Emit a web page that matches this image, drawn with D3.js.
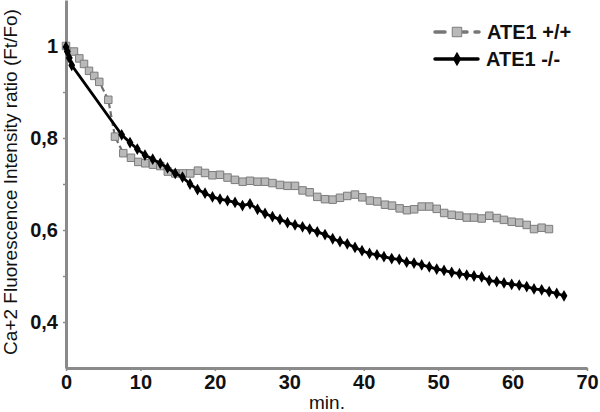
<!DOCTYPE html>
<html>
<head>
<meta charset="utf-8">
<script src="https://cdn.jsdelivr.net/npm/d3@7"></script>
<style>
  html, body { margin: 0; padding: 0; background: #fff; }
  svg { display: block; font-family: "Liberation Sans", Arial, sans-serif; }
</style>
</head>
<body>
<svg id="chart" width="600" height="412"></svg>
<script>
// ---- data ----
const seriesNames = ["ATE1 +/+", "ATE1 -/-"];

const wtTime = [0, 1.07, 1.79, 2.42, 3.09, 3.8, 4.47, 5.68, 6.58, 7.7, 8.73, 9.71, 10.65, 11.69, 12.67, 13.68, 14.68, 15.72, 16.7, 17.73, 18.68, 19.68, 20.69, 21.7, 22.7, 23.74, 24.72, 25.73, 26.74, 27.74, 28.75, 29.76, 30.77, 31.78, 32.74, 33.76, 34.8, 35.83, 36.81, 37.79, 38.83, 39.81, 40.84, 41.82, 42.86, 43.8, 44.83, 45.81, 46.78, 47.79, 48.81, 49.81, 50.81, 51.82, 52.84, 53.84, 54.82, 55.85, 56.87, 57.9, 58.84, 59.88, 60.9, 61.9, 62.88, 63.91, 64.89];
const wtValue = [1.000, 0.988, 0.973, 0.961, 0.946, 0.935, 0.922, 0.883, 0.803, 0.767, 0.757, 0.748, 0.745, 0.742, 0.739, 0.727, 0.723, 0.723, 0.723, 0.729, 0.724, 0.719, 0.720, 0.714, 0.709, 0.705, 0.707, 0.705, 0.705, 0.702, 0.698, 0.696, 0.696, 0.686, 0.682, 0.672, 0.667, 0.666, 0.670, 0.674, 0.677, 0.671, 0.664, 0.662, 0.655, 0.653, 0.647, 0.643, 0.645, 0.651, 0.651, 0.646, 0.637, 0.633, 0.631, 0.627, 0.627, 0.625, 0.631, 0.626, 0.622, 0.618, 0.616, 0.611, 0.602, 0.605, 0.602];

const koTime = [0, 0.17, 0.44, 0.77, 7.48, 8.6, 9.58, 10.61, 11.65, 12.66, 13.64, 14.68, 15.65, 16.66, 17.67, 18.68, 19.68, 20.69, 21.7, 22.71, 23.71, 24.72, 25.73, 26.74, 27.74, 28.75, 29.76, 30.77, 31.78, 32.74, 33.76, 34.8, 35.83, 36.81, 37.79, 38.83, 39.77, 40.78, 41.78, 42.72, 43.76, 44.78, 45.77, 46.76, 47.79, 48.81, 49.81, 50.79, 51.82, 52.87, 53.84, 54.82, 55.85, 56.86, 57.87, 58.85, 59.88, 60.9, 61.9, 62.88, 63.91, 64.92, 65.93, 66.91];
const koValue = [0.998, 0.988, 0.974, 0.958, 0.807, 0.790, 0.776, 0.763, 0.754, 0.745, 0.735, 0.723, 0.715, 0.700, 0.688, 0.680, 0.672, 0.667, 0.664, 0.660, 0.653, 0.657, 0.645, 0.636, 0.629, 0.623, 0.616, 0.611, 0.607, 0.602, 0.596, 0.590, 0.581, 0.575, 0.570, 0.562, 0.555, 0.549, 0.546, 0.542, 0.538, 0.536, 0.530, 0.528, 0.524, 0.520, 0.515, 0.512, 0.508, 0.505, 0.502, 0.500, 0.498, 0.490, 0.488, 0.485, 0.482, 0.480, 0.477, 0.472, 0.470, 0.466, 0.462, 0.457];

const xTickValues = [0, 10, 20, 30, 40, 50, 60, 70];
const yTickValues = [0.4, 0.5, 0.6, 0.7, 0.8, 0.9, 1.0];
const yTickLabels = ["0,4", "", "0,6", "", "0,8", "", "1"];
const xAxisTitle = "min.";
const yAxisTitle = "Ca+2 Fluorescence Intensity ratio (Ft/Fo)";

// ---- layout ----
const svg = d3.select("#chart");
const x = d3.scaleLinear().domain([0, 70]).range([66, 587]);
const y = d3.scaleLinear().domain([0.3, 1.1]).range([368, 0]);
const axisColor = "#8a8a8a";

// axes
const xAxis = svg.append("g").attr("transform", "translate(0,368)")
  .call(d3.axisBottom(x).tickValues(xTickValues).tickSize(3).tickSizeOuter(0).tickPadding(4));
xAxis.select(".domain").attr("stroke", axisColor).attr("stroke-width", 3);
xAxis.selectAll(".tick line").attr("stroke", axisColor).attr("stroke-width", 1.5);
xAxis.selectAll(".tick text")
  .attr("fill", "#111").attr("font-size", 20).attr("font-weight", "bold")
  .attr("font-family", "Liberation Sans, Arial, sans-serif");

const yAxis = svg.append("g").attr("transform", "translate(66,0)")
  .call(d3.axisLeft(y).tickValues(yTickValues).tickSize(3).tickSizeOuter(0).tickPadding(5)
    .tickFormat((d, i) => yTickLabels[i]));
yAxis.select(".domain").attr("stroke", axisColor).attr("stroke-width", 3);
yAxis.selectAll(".tick line").attr("stroke", axisColor).attr("stroke-width", 1.5);
yAxis.selectAll(".tick text")
  .attr("fill", "#111").attr("font-size", 20).attr("font-weight", "bold")
  .attr("font-family", "Liberation Sans, Arial, sans-serif");

// axis titles
svg.append("text").attr("x", 327).attr("y", 409).attr("text-anchor", "middle")
  .attr("font-size", 19).attr("fill", "#111").text(xAxisTitle);
svg.append("text").attr("transform", "translate(17,182) rotate(-90)")
  .attr("text-anchor", "middle").attr("font-size", 19).attr("fill", "#111").text(yAxisTitle);

// series: wild type (gray, dashed, squares)
const wt = wtTime.map((t, i) => ({ t, v: wtValue[i] }));
const ko = koTime.map((t, i) => ({ t, v: koValue[i] }));
const line = d3.line().x(d => x(d.t)).y(d => y(d.v));

svg.append("path").datum(wt).attr("d", line)
  .attr("fill", "none").attr("stroke", "#6e6e6e").attr("stroke-width", 2.2)
  .attr("stroke-dasharray", "6,3");
const sq = d3.symbol().type(d3.symbolSquare).size(56);
svg.append("g").selectAll("path").data(wt).join("path")
  .attr("d", sq).attr("transform", d => `translate(${x(d.t)},${y(d.v)})`)
  .attr("fill", "#b9b9b9").attr("stroke", "#7c7c7c").attr("stroke-width", 1);

// series: knockout (black, solid, diamonds)
svg.append("path").datum(ko).attr("d", line)
  .attr("fill", "none").attr("stroke", "#000").attr("stroke-width", 2.8);
const dm = d3.symbol().type(d3.symbolDiamond).size(40);
svg.append("g").selectAll("path").data(ko).join("path")
  .attr("d", dm).attr("transform", d => `translate(${x(d.t)},${y(d.v)})`)
  .attr("fill", "#000");

// legend
const lg = svg.append("g");
lg.append("line").attr("x1", 435).attr("x2", 479).attr("y1", 32).attr("y2", 32)
  .attr("stroke", "#777").attr("stroke-width", 3.5).attr("stroke-dasharray", "10,18,4,8,4,100")
  .attr("stroke-linecap", "round");
lg.append("path").attr("d", d3.symbol().type(d3.symbolSquare).size(90)())
  .attr("transform", "translate(457,32)").attr("fill", "#b9b9b9").attr("stroke", "#7c7c7c");
lg.append("text").attr("x", 487).attr("y", 39).attr("font-size", 20).attr("font-weight", "bold")
  .attr("fill", "#111").text(seriesNames[0]);

lg.append("line").attr("x1", 435).attr("x2", 478).attr("y1", 59).attr("y2", 59)
  .attr("stroke", "#000").attr("stroke-width", 3.5).attr("stroke-linecap", "round");
lg.append("path").attr("d", d3.symbol().type(d3.symbolDiamond).size(60)())
  .attr("transform", "translate(457,59)").attr("fill", "#000");
lg.append("text").attr("x", 486).attr("y", 66).attr("font-size", 20).attr("font-weight", "bold")
  .attr("fill", "#111").text(seriesNames[1]);
</script>
</body>
</html>
